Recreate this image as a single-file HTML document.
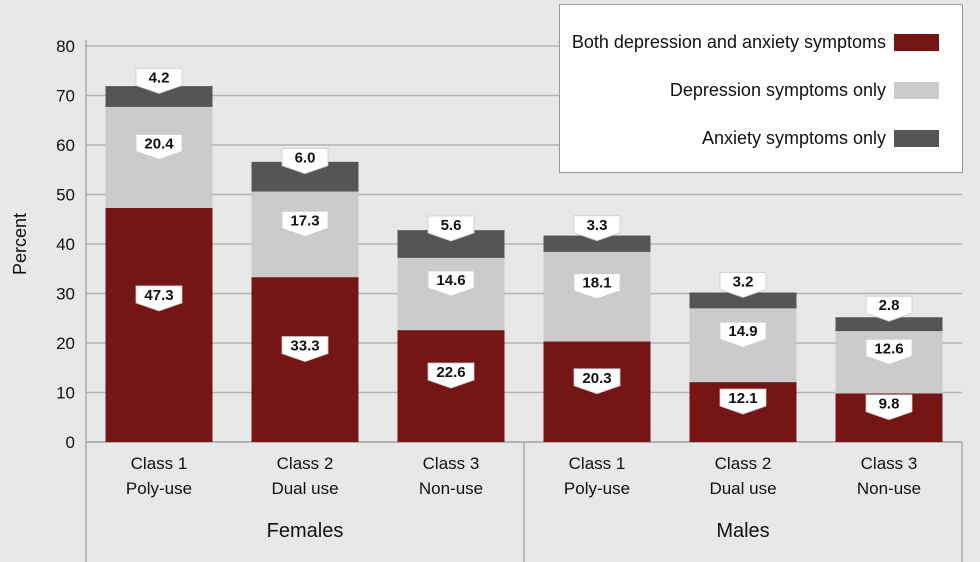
<!DOCTYPE html>
<html><head><meta charset="utf-8"><style>
body{margin:0;background:#e8e8e8;}
svg{display:block;font-family:"Liberation Sans",sans-serif;}
</style></head><body>
<svg id="c" width="980" height="562" viewBox="0 0 980 562">
<rect width="980" height="562" fill="#e8e8e8"/>
</svg>
<script>
const categories=["Class 1|Poly-use","Class 2|Dual use","Class 3|Non-use","Class 1|Poly-use","Class 2|Dual use","Class 3|Non-use"];
const groups=["Females","Males"];
const both=[47.3,33.3,22.6,20.3,12.1,9.8];
const depOnly=[20.4,17.3,14.6,18.1,14.9,12.6];
const anxOnly=[4.2,6.0,5.6,3.3,3.2,2.8];
const yTicks=[0,10,20,30,40,50,60,70,80];
const NS="http://www.w3.org/2000/svg";
const svg=document.getElementById('c');
function el(t,a,p){const e=document.createElementNS(NS,t);for(const k in a)e.setAttribute(k,a[k]);(p||svg).appendChild(e);return e;}
const y=v=>442-v*4.95;
const x0=86,x1=962,bw=(x1-x0)/6,barW=107;
const xc=i=>x0+bw*(i+0.5);
yTicks.forEach(t=>{
 const g=el('line',{x1:x0,x2:x1,y1:y(t),y2:y(t),stroke:'#b4b4b4','stroke-width':1.5});
 
 const tx=el('text',{x:75,y:y(t)+6,'text-anchor':'end','font-size':17,fill:'#111'});tx.textContent=t;
 
});
const ax=el('line',{x1:x0,x2:x0,y1:40,y2:562,stroke:'#aaa','stroke-width':1.5});

const yt=el('text',{x:0,y:0,transform:'translate(26,244) rotate(-90)','text-anchor':'middle','font-size':18,fill:'#111'});yt.textContent='Percent';

[[x0,442,x1,442],[x1,442,x1,562],[524,442,524,562]].forEach(l=>{const e=el('line',{x1:l[0],y1:l[1],x2:l[2],y2:l[3],stroke:'#aaa','stroke-width':1.5});
 });
const series=[{d:both,c:'#751515',n:'both'},{d:depOnly,c:'#cbcbcb',n:'depression-only'},{d:anxOnly,c:'#555555',n:'anxiety-only'}];
function label(cx,tip,txt){
 const g=el('g',{});
 const w=46,h=17,top=tip-25;
 el('path',{d:`M${cx-w/2},${top}h${w}v${h}l${-w/2},8l${-w/2},-8z`,fill:'#fff',stroke:'#ccc','stroke-width':0.8},g);
 const t=el('text',{x:cx,y:top+14,'text-anchor':'middle','font-size':15,'font-weight':'bold',fill:'#111'},g);t.textContent=txt;
}
categories.forEach((cat,i)=>{
 let base=0;const cx=xc(i);
 series.forEach(s=>{
  const v=s.d[i];
  const r=el('rect',{x:cx-barW/2,y:y(base+v),width:barW,height:y(base)-y(base+v),fill:s.c});
  
  const mid=(y(base)+y(base+v))/2;
  label(cx,mid+(s.n==='anxiety-only'?-3:(s.n==='both'&&v>40?-14:2)),v.toFixed(1));
  base+=v;
 });
 const [a,b]=cat.split('|');
 const t1=el('text',{x:cx,y:469,'text-anchor':'middle','font-size':17,fill:'#111'});t1.textContent=a;
 
 const t2=el('text',{x:cx,y:494,'text-anchor':'middle','font-size':17,fill:'#111'});t2.textContent=b;
 
});
groups.forEach((g,i)=>{const t=el('text',{x:x0+bw*(1.5+3*i),y:537,'text-anchor':'middle','font-size':20,fill:'#111'});t.textContent=g;
 });
const lg=el('g',{});
el('rect',{x:559.5,y:4.5,width:403,height:168,fill:'#fff',stroke:'#999'},lg);
const legItems=[['Both depression and anxiety symptoms','#751515'],['Depression symptoms only','#cbcbcb'],['Anxiety symptoms only','#555555']];
legItems.forEach((it,k)=>{
 const g=el('g',{},lg);
 const yy=42+k*48;
 const t=el('text',{x:886,y:yy+6,'text-anchor':'end','font-size':18,fill:'#111'},g);t.textContent=it[0];
 el('rect',{x:894,y:yy-8,width:45,height:17,fill:it[1]},g);
});
</script>
</body></html>
